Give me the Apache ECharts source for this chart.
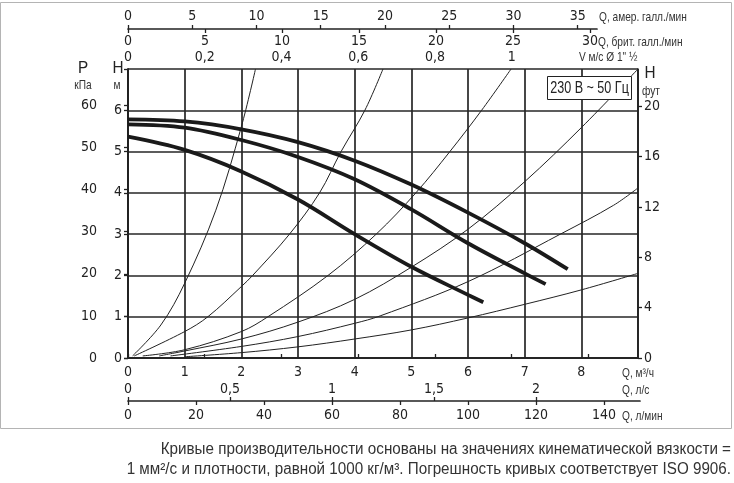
<!DOCTYPE html>
<html><head><meta charset="utf-8">
<script src="https://cdn.jsdelivr.net/npm/echarts@6/dist/echarts.min.js"></script>
<style>html,body{margin:0;padding:0;background:#fff}#c{width:734px;height:483px}</style>
</head><body><div id="c"></div>
<script>
// ---- data (Q in m³/h, H in m) ----
const pumpHigh = [[0,5.78],[1,5.73],[2,5.54],[3,5.23],[4,4.78],[5,4.2],[6,3.52],[7,2.78],[7.76,2.15]];
const pumpMid  = [[0,5.66],[1,5.58],[2,5.28],[3,4.87],[4,4.33],[5,3.6],[6,2.78],[7,2.05],[7.37,1.79]];
const pumpLow  = [[0,5.36],[1,5.04],[2,4.52],[3,3.84],[4,3.0],[5,2.21],[6,1.53],[6.27,1.35]];
const system1 = [[0.08,0.05],[0.58,0.8],[1.0,1.81],[1.55,3.58],[2.0,5.6],[2.25,7.0]];
const system2 = [[0.11,0.05],[1.0,0.64],[1.41,1.0],[2.0,1.73],[2.2,2.0],[2.85,3.0],[3.38,4.0],[3.76,5.0],[4.18,6.0],[4.5,7.0]];
const system3 = [[0.26,0.05],[1.0,0.2],[2.0,0.64],[2.47,1.0],[3.53,2.0],[4.38,3.0],[5.08,4.0],[5.68,5.0],[6.24,6.0],[6.76,7.0]];
const system4 = [[0.55,0.05],[1.0,0.17],[2.0,0.46],[3.0,0.87],[4.0,1.42],[5.0,2.2],[6.0,3.12],[7.0,4.27],[8.0,5.58],[9.0,7.0]];
const system5 = [[0.75,0.05],[2.0,0.28],[3.0,0.52],[4.0,0.84],[4.45,1.02],[6.0,1.85],[7.63,3.0],[8.57,3.7],[9.0,4.12]];
const system6 = [[1.0,0.03],[2.0,0.13],[3.0,0.27],[4.0,0.46],[5.0,0.68],[6.0,0.97],[7.0,1.3],[8.0,1.65],[9.0,2.05]];

const flowLabels = [0,1,2,3,4,5,6,7,8];
const headTicks = [0,1,2,3,4,5,6,7];
const headLabels = [0,1,2,3,4,5,6];
const pressureTicks = [0,10,20,30,40,50,60];
const feetTicks = [0,4,8,12,16,20];
const velocityTicks = [0,0.2,0.4,0.6,0.8,1.0,1.2];
const velocityLabels = [0,0.2,0.4,0.6,0.8,1.0];
const usGalTicks = [0,5,10,15,20,25,30,35];
const ukGalTicks = [0,5,10,15,20,25,30];
const lpsTicks = [0,0.5,1,1.5,2];
const lpmTicks = [0,20,40,60,80,100,120,140];

// unit conversions
const QMAX = 9, HMAX = 7;
const M3H_PER_MS = 6.77;     // velocity scale (1 m/s in m³/h)
const USG_PER_M3H = 4.41;
const UKG_PER_M3H = 3.68;
const KPA_PER_M = 9.80665;
const FT_PER_M = 1 / 0.3048;

const PX_PER_Q = 510 / QMAX;
const galSpanQ = 469 / PX_PER_Q;
const litreSpanQ = 512 / PX_PER_Q;

const COND = "'DejaVu Sans Condensed','Liberation Sans',sans-serif";
const HELV = "'Liberation Sans',Arial,sans-serif";
const INK = '#222';
const comma = v => String(v).replace('.', ',');

function lbl(values, margin, extra) {
  return Object.assign({customValues: values, margin: margin, color: INK, fontSize: 14, fontFamily: COND}, extra || {});
}
function tick(values, len) {
  return {show: true, customValues: values, length: len, lineStyle: {color: INK, width: 1.3}};
}
const axLine = {show: true, lineStyle: {color: INK, width: 1.7}};

// condensed text (Helvetica-like glyphs squeezed horizontally)
function ctext(str, x, y, size, align, color, sx, z) {
  return {type: 'text', x: x, y: y, scaleX: sx || 0.78, z: z || 10, silent: true,
    style: {text: str, x: 0, y: 0, font: size + 'px ' + HELV, fill: color || '#333', align: align || 'left', verticalAlign: 'middle'}};
}

const chart = echarts.init(document.getElementById('c'), null, {renderer: 'canvas'});

function curve(data, w) {
  return {type: 'line', xAxisIndex: 0, yAxisIndex: 0, data: data, showSymbol: false, symbol: 'none',
    smooth: 0.35, lineStyle: {color: w > 2 ? '#1a1a1a' : INK, width: w}, z: w > 2 ? 4 : 3, silent: true};
}

const option = {
  animation: false,
  grid: [
    {left: 128, top: 69, width: 510, height: 289},
    {left: 128, top: 29, width: 469, height: 0},
    {left: 128, top: 401, width: 512, height: 0}
  ],
  xAxis: [
    {gridIndex: 0, type: 'value', position: 'bottom', min: 0, max: QMAX, interval: 1,
      axisLine: axLine, axisTick: {show: false},
      axisLabel: lbl(flowLabels, 7),
      splitLine: {show: true, lineStyle: {color: '#262626', width: 1.7}}},
    {gridIndex: 0, type: 'value', position: 'top', min: 0, max: QMAX / M3H_PER_MS,
      axisLine: axLine, axisTick: tick(velocityTicks, 4),
      axisLabel: lbl(velocityLabels, 5, {formatter: comma}), splitLine: {show: false}},
    {gridIndex: 1, type: 'value', position: 'top', min: 0, max: galSpanQ * USG_PER_M3H,
      axisLine: axLine, axisTick: tick(usGalTicks, 4),
      axisLabel: lbl(usGalTicks, 6), splitLine: {show: false}},
    {gridIndex: 1, type: 'value', position: 'bottom', min: 0, max: galSpanQ * UKG_PER_M3H,
      axisLine: {show: false}, axisTick: tick(ukGalTicks, 4),
      axisLabel: lbl(ukGalTicks, 5), splitLine: {show: false}},
    {gridIndex: 2, type: 'value', position: 'top', min: 0, max: litreSpanQ / 3.6,
      axisLine: axLine, axisTick: tick(lpsTicks, 4),
      axisLabel: lbl(lpsTicks, 5, {formatter: comma}), splitLine: {show: false}},
    {gridIndex: 2, type: 'value', position: 'bottom', min: 0, max: litreSpanQ * 1000 / 60,
      axisLine: {show: false}, axisTick: tick(lpmTicks, 4),
      axisLabel: lbl(lpmTicks, 7), splitLine: {show: false}}
  ],
  yAxis: [
    {gridIndex: 0, type: 'value', position: 'left', min: 0, max: HMAX, interval: 1,
      axisLine: axLine, axisTick: tick(headTicks, 4),
      axisLabel: lbl(headLabels, 6),
      splitLine: {show: true, lineStyle: {color: '#262626', width: 1.7}}},
    {gridIndex: 0, type: 'value', position: 'left', offset: 26, min: 0, max: HMAX * KPA_PER_M,
      axisLine: axLine, axisTick: tick(pressureTicks, 4),
      axisLabel: lbl(pressureTicks, 5), splitLine: {show: false}},
    {gridIndex: 0, type: 'value', position: 'right', min: 0, max: HMAX * FT_PER_M,
      axisLine: axLine, axisTick: tick(feetTicks, 4),
      axisLabel: lbl(feetTicks, 6), splitLine: {show: false}},
    {gridIndex: 1, type: 'value', show: false, min: 0, max: 1},
    {gridIndex: 2, type: 'value', show: false, min: 0, max: 1}
  ],
  series: [
    curve(system1, 1), curve(system2, 1), curve(system3, 1),
    curve(system4, 1), curve(system5, 1), curve(system6, 1),
    curve(pumpHigh, 3.8), curve(pumpMid, 3.8), curve(pumpLow, 3.8)
  ],
  graphic: [
    {type: 'rect', shape: {x: 0.5, y: 2.5, width: 731, height: 426}, style: {fill: 'none', stroke: '#b4b4b4', lineWidth: 1}, z: 0, silent: true},
    ctext('Q, амер. галл./мин', 599, 17, 13),
    ctext('Q, брит. галл./мин', 598, 42, 13),
    ctext('V м/с Ø 1" ½', 579, 57, 13),
    ctext('Q, м³/ч', 622, 373, 13),
    ctext('Q, л/с', 622, 390, 13),
    ctext('Q, л/мин', 622, 416, 13),
    ctext('P', 83, 68, 17, 'center', INK, 0.9),
    ctext('кПа', 83, 85, 13, 'center'),
    ctext('H', 118, 68, 17, 'center', INK, 0.9),
    ctext('м', 117, 85, 13, 'center'),
    ctext('H', 650, 73, 17, 'center', INK, 0.9),
    ctext('фут', 651, 91, 13, 'center'),
    {type: 'rect', shape: {x: 547.5, y: 76.5, width: 84, height: 23}, style: {fill: '#fff', stroke: INK, lineWidth: 1}, z: 100, silent: true},
    ctext('230 В ~ 50 Гц', 589.5, 88, 17, 'center', INK, 0.74, 101),
    ctext('Кривые производительности основаны на значениях кинематической вязкости =', 731, 450, 16, 'right', '#333', 0.95),
    ctext('1 мм²/с и плотности, равной 1000 кг/м³. Погрешность кривых соответствует ISO 9906.', 731, 470, 16, 'right', '#333', 0.95)
  ]
};
chart.setOption(option);
</script></body></html>
